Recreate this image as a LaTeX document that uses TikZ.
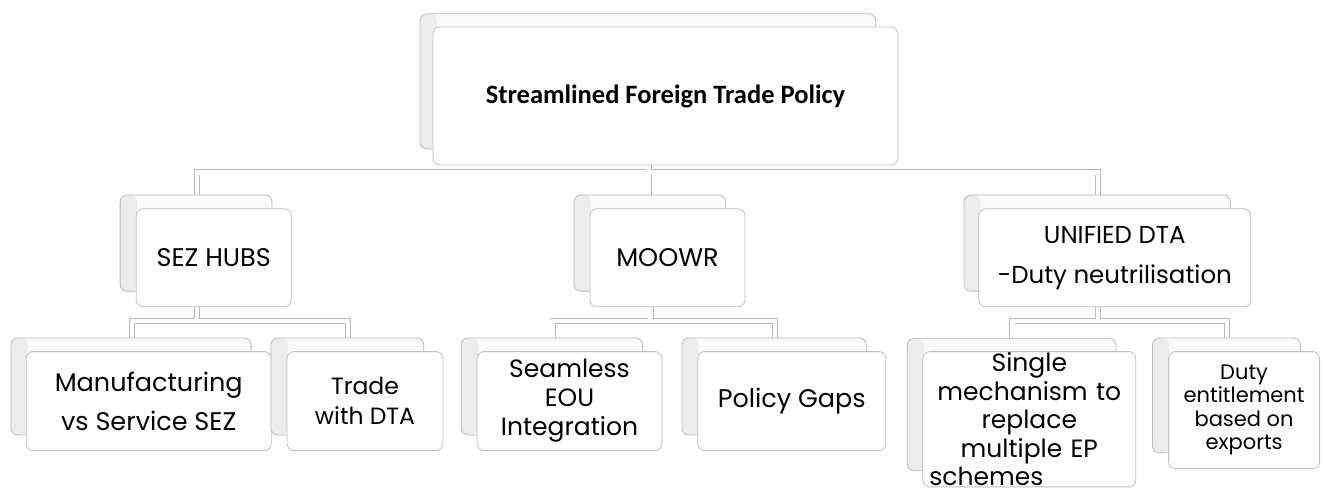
\documentclass[tikz,border=0pt]{standalone}
\usepackage{fontspec}
\setmainfont{Poppins}
\newfontfamily\titlefont{Carlito}
\usetikzlibrary{positioning, shadows, backgrounds}

\tikzset{
  card/.style={draw=gray!50, line width=0.8pt, fill=white, rounded corners=7pt,
    align=center, inner sep=3pt,
    copy shadow={shadow xshift=-18pt, shadow yshift=15pt, shadow scale=0.98,
      draw=gray!55, fill=gray!4,
      path picture={\shade[left color=gray!15, middle color=gray!55, right color=gray!12]
        (path picture bounding box.south west) rectangle
        ([xshift=17pt]path picture bounding box.north west);}}}
}

\begin{document}
\begin{tikzpicture}[x=1pt, y=-1pt, font=\fontsize{22}{30}\selectfont]
\useasboundingbox (0,0) rectangle (1324,488);

% Root
\node[card, minimum width=465pt, minimum height=138pt,
    font=\titlefont\bfseries\fontsize{26.5}{30}\selectfont
] (policy) at (665.5,96) {Streamlined Foreign Trade Policy};

% Second row
\node[card,
    below=43pt of policy, xshift=2pt,
    minimum width=155pt, minimum height=98pt,
    font=\fontsize{25.5}{30}\selectfont
] (moowr) {MOOWR};

\node[card,
    left=298pt of moowr,
    minimum width=155pt, minimum height=98pt,
    font=\fontsize{25.5}{30}\selectfont
] (sez) {SEZ HUBS};

\node[card,
    right=233pt of moowr,
    minimum width=272pt, minimum height=98pt,
    font=\fontsize{24.5}{40}\selectfont
] (unified) {UNIFIED DTA\\-Duty neutrilisation};

% Third row
\node[card,
    below=44pt of sez, xshift=-65pt,
    minimum width=245pt, minimum height=99pt,
    font=\fontsize{25.5}{39}\selectfont
] (manuf) {Manufacturing\\vs Service SEZ};

\node[card,
    right=15pt of manuf,
    minimum width=156pt, minimum height=99pt,
    font=\fontsize{23.5}{30}\selectfont
] (trade) {Trade\\with DTA};

\node[card,
    below=44pt of moowr, xshift=-98pt,
    minimum width=185pt, minimum height=99pt,
    font=\fontsize{25}{29}\selectfont
] (seamless) {Seamless\\EOU\\Integration};

\node[card,
    right=35pt of seamless,
    minimum width=188pt, minimum height=99pt,
    font=\fontsize{25.5}{29}\selectfont
] (gaps) {Policy Gaps};

\node[card,
    below=44pt of unified, xshift=-85.5pt,
    minimum width=213pt, minimum height=134pt, text width=200pt, inner ysep=1pt,
    font=\fontsize{25}{28.5}\selectfont
] (single) {Single\\mechanism to\\replace\\multiple EP\\\makebox[\linewidth][l]{schemes}};

\node[card,
    below right=0pt and 32pt of single.north east,
    minimum width=151pt, minimum height=117pt,
    font=\fontsize{21}{23.5}\selectfont
] (entitle) {Duty\\entitlement\\based on\\exports};

% Connectors: grey pass first, white pass on top
\begin{scope}[on background layer]
\foreach \w/\c in {6pt/gray!55, 4.4pt/white} {
  \draw[line width=\w, \c]
    ([xshift=-17pt]policy.south) -- ++(0,7) -| ([xshift=-17pt]sez.north)
    ([xshift=-17pt]policy.south) -- ++(0,7) -| ([xshift=-17pt]unified.north)
    ([xshift=-17pt]policy.south) -- ([xshift=-17pt]policy.south |- moowr.north)
    ([xshift=-17pt]sez.south) -- ++(0,14) -| ([xshift=-17pt]manuf.north)
    ([xshift=-17pt]sez.south) -- ++(0,14) -| ([xshift=-17pt]trade.north)
    ([xshift=-17pt]moowr.south) -- ++(0,14) -| ([xshift=-17pt]seamless.north)
    ([xshift=-17pt]moowr.south) -- ++(0,14) -| ([xshift=-17pt]gaps.north)
    ([xshift=-17pt]unified.south) -- ++(0,14) -| ([xshift=-17pt]single.north)
    ([xshift=-17pt]unified.south) -- ++(0,14) -| ([xshift=-17pt]entitle.north);
}
\end{scope}

\end{tikzpicture}
\end{document}
